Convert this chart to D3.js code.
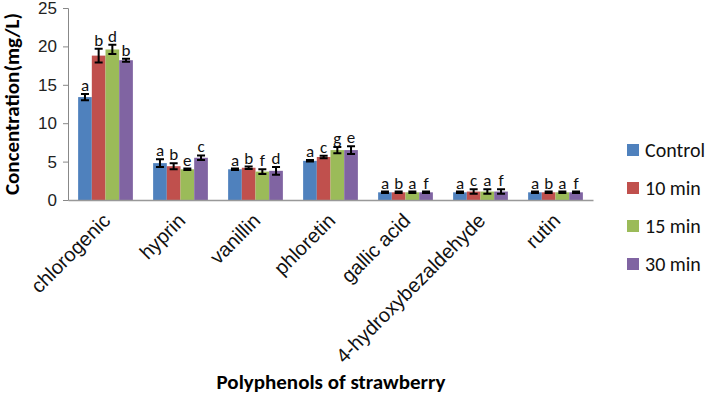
<!DOCTYPE html>
<html>
<head>
<meta charset="utf-8">
<script src="https://cdn.jsdelivr.net/npm/d3@7"></script>
<style>
body { margin: 0; background: #fff; }
svg { font-family: Calibri, Carlito, "Open Sans", sans-serif; }
</style>
</head>
<body>
<div class="container"></div>
<script>
var categories = ["chlorogenic", "hyprin", "vanillin", "phloretin", "gallic acid", "4-hydroxybezaldehyde", "rutin"];
var seriesNames = ["Control", "10 min", "15 min", "30 min"];
var control = [13.4, 4.8, 4.0, 5.1, 1.0, 1.0, 1.0];
var min10 = [18.8, 4.4, 4.2, 5.6, 1.0, 1.1, 1.0];
var min15 = [19.6, 4.0, 3.7, 6.5, 1.0, 1.1, 1.0];
var min30 = [18.2, 5.5, 3.8, 6.5, 1.0, 1.1, 1.0];
var errControl = [0.4, 0.5, 0.1, 0.1, 0.1, 0.1, 0.1];
var err10 = [0.9, 0.4, 0.15, 0.15, 0.1, 0.3, 0.1];
var err15 = [0.6, 0.1, 0.3, 0.4, 0.1, 0.3, 0.1];
var err30 = [0.2, 0.3, 0.5, 0.5, 0.1, 0.3, 0.1];
var lettersControl = ["a", "a", "a", "a", "a", "a", "a"];
var letters10 = ["b", "b", "b", "c", "b", "c", "b"];
var letters15 = ["d", "e", "f", "g", "a", "a", "a"];
var letters30 = ["b", "c", "d", "e", "f", "f", "f"];
var yTicks = [0, 5, 10, 15, 20, 25];
var colors = ["#4F81BD", "#C0504D", "#9BBB59", "#8064A2"];

var values = [control, min10, min15, min30];
var errors = [errControl, err10, err15, err30];
var letters = [lettersControl, letters10, letters15, letters30];

var WIDTH = 707, HEIGHT = 395;
var MARGIN_LEFT = 68, MARGIN_TOP = 8, plotW = 525, plotH = 192;

var svg = d3.select('.container').append('svg')
	.attr('width', WIDTH)
	.attr('height', HEIGHT);

var x = d3.scaleBand().domain(categories).range([0, plotW]).paddingInner(0.27).paddingOuter(0.135);
var xs = d3.scaleBand().domain(seriesNames).range([0, x.bandwidth()]);
var y = d3.scaleLinear().domain([0, 25]).range([plotH, 0]);

var g = svg.append('g').attr('transform', 'translate(' + MARGIN_LEFT + ',' + MARGIN_TOP + ')');

// y axis
var yAxis = g.append('g').call(d3.axisLeft(y).tickValues(yTicks).tickSize(5).tickPadding(6));
yAxis.select('.domain').attr('stroke', '#888');
yAxis.selectAll('.tick line').attr('stroke', '#888');
yAxis.selectAll('text').attr('font-size', 17).attr('fill', '#222');

// bars
var rows = [];
categories.forEach(function(c, i) {
	seriesNames.forEach(function(s, j) {
		rows.push({cat: c, ser: s, j: j, v: values[j][i], e: errors[j][i], l: letters[j][i]});
	});
});

var bar = g.selectAll('.bar').data(rows).enter().append('g')
	.attr('transform', function(d) { return 'translate(' + (x(d.cat) + xs(d.ser)) + ',0)'; });

bar.append('rect')
	.attr('y', function(d) { return y(d.v); })
	.attr('width', xs.bandwidth())
	.attr('height', function(d) { return plotH - y(d.v); })
	.attr('fill', function(d) { return colors[d.j]; });

var cx = xs.bandwidth() / 2;
bar.append('path')
	.attr('d', function(d) {
		var t = y(d.v + d.e), b = y(d.v - d.e);
		return 'M' + (cx - 4) + ',' + t + 'H' + (cx + 4) + 'M' + cx + ',' + t + 'V' + b + 'M' + (cx - 4) + ',' + b + 'H' + (cx + 4);
	})
	.attr('stroke', '#000')
	.attr('stroke-width', 2)
	.attr('fill', 'none');

bar.append('text')
	.attr('x', cx)
	.attr('y', function(d) { return y(d.v + d.e) - 3; })
	.attr('text-anchor', 'middle')
	.attr('font-size', 17)
	.attr('fill', '#111')
	.text(function(d) { return d.l; });

// x axis
var xAxis = g.append('g').attr('transform', 'translate(0,' + plotH + ')')
	.call(d3.axisBottom(x).tickSize(0).tickPadding(0));
xAxis.select('.domain').attr('stroke', '#999').attr('stroke-width', 1.5);
xAxis.selectAll('text')
	.attr('font-size', 20)
	.attr('fill', '#111')
	.attr('text-anchor', 'end')
	.attr('dy', 0)
	.attr('transform', 'translate(6,22) rotate(-45)');

// axis titles
svg.append('text')
	.attr('transform', 'translate(19,' + (MARGIN_TOP + plotH / 2) + ') rotate(-90)')
	.attr('text-anchor', 'middle')
	.attr('font-size', 21)
	.attr('font-weight', 'bold')
	.text('Concentration(mg/L)');

svg.append('text')
	.attr('x', 331)
	.attr('y', 389)
	.attr('text-anchor', 'middle')
	.attr('font-size', 21)
	.attr('font-weight', 'bold')
	.text('Polyphenols of strawberry');

// legend
var legend = svg.selectAll('.legend').data(seriesNames).enter().append('g')
	.attr('transform', function(d, i) { return 'translate(627,' + (150 + i * 38) + ')'; });
legend.append('rect').attr('x', 0).attr('y', -6).attr('width', 12).attr('height', 12)
	.attr('fill', function(d, i) { return colors[i]; });
legend.append('text').attr('x', 18).attr('y', 7).attr('font-size', 20).attr('fill', '#111')
	.text(function(d) { return d; });
</script>
</body>
</html>
